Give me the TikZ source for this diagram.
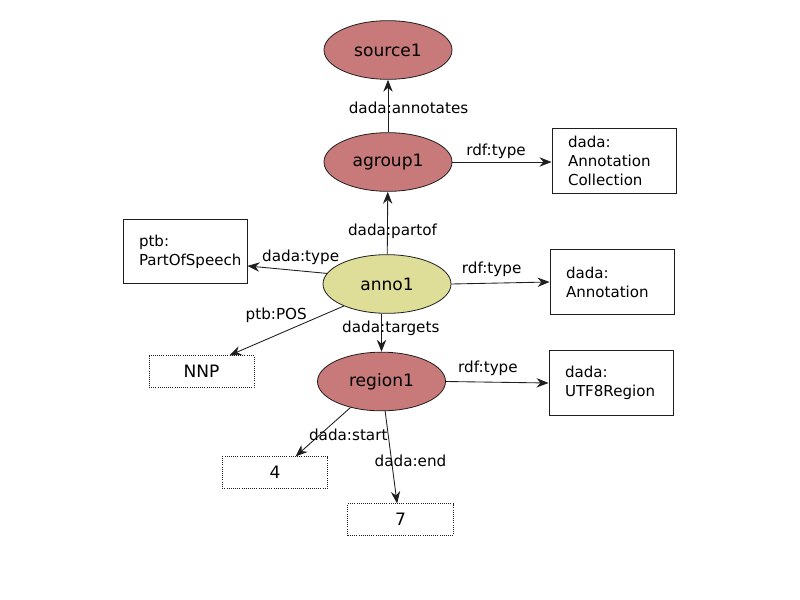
\documentclass[tikz,border=0pt]{standalone}
\usepackage{fontspec}
\setmainfont{DejaVu Sans}
\usetikzlibrary{shapes.geometric,arrows.meta}
\definecolor{redfill}{RGB}{200,121,121}
\definecolor{yelfill}{RGB}{222,222,152}
\definecolor{edgecol}{RGB}{30,30,30}
\tikzset{
  res/.style={ellipse, draw=edgecol, line width=0.6pt, fill=redfill, minimum width=96pt, minimum height=44pt, inner sep=0pt, font=\fontsize{12.8pt}{15pt}\selectfont},
  annores/.style={res, fill=yelfill},
  typebox/.style={rectangle, draw=edgecol, line width=0.7pt, minimum width=93pt, minimum height=48.5pt, inner xsep=12pt, inner ysep=0pt, text width=69pt, align=left, font=\fontsize{11.3pt}{14.4pt}\selectfont},
  litbox/.style={rectangle, draw=edgecol, densely dotted, line width=0.6pt, minimum width=79pt, minimum height=23.5pt, inner sep=0pt, font=\fontsize{12.8pt}{15pt}\selectfont},
  arc/.style={draw=edgecol, line width=0.65pt, -{Stealth[length=9pt,width=7pt]}},
  lbl/.style={font=\fontsize{11.4pt}{14pt}\selectfont, inner sep=0pt}
}
\begin{document}
\begin{tikzpicture}[x=0.75pt,y=-0.75pt]
\useasboundingbox (0,0) rectangle (800,600);
% resources
\node[res] (source1) at (388,50) {source1};
\node[res] (agroup1) at (388,162) {agroup1};
\node[annores] (anno1) at (387,284) {anno1};
\node[res] (region1) at (381.5,381.5) {region1};
% type boxes
\node[typebox] (coll) at (614,161) {dada:\\Annotation\\Collection};
\node[typebox] (annot) at (612,282) {dada:\\Annotation};
\node[typebox] (utf) at (611,383) {dada:\\UTF8Region};
\node[typebox] (pos) at (185,251.5) {ptb:\\PartOfSpeech};
% literal boxes
\node[litbox, minimum width=78.75pt] (nnp) at (201.5,371.5) {NNP};
\node[litbox] (four) at (275,472.5) {4};
\node[litbox] (seven) at (400.5,519.5) {7};
% connectors
\draw[arc] (agroup1) -- node[lbl, pos=0.46, xshift=15.4pt] {dada:annotates} (source1);
\draw[arc] (anno1) -- node[lbl, pos=0.375, xshift=3.8pt] {dada:partof} (agroup1);
\draw[arc] (agroup1.east) -- node[lbl, pos=0.44, yshift=8.3pt] {rdf:type} (coll.west |- agroup1.east);
\draw[arc] (anno1.east) -- node[lbl, pos=0.41, yshift=10.5pt] {rdf:type} (annot.west);
\draw[arc] (region1.east) -- node[lbl, pos=0.41, yshift=10.5pt] {rdf:type} (utf.west);
\draw[arc] (anno1.170) -- node[lbl, pos=0.33, yshift=10pt] {dada:type} (pos.-13);
\draw[arc] (anno1.207) -- node[lbl, pos=0.59, yshift=15pt] {ptb:POS} (nnp.30);
\draw[arc] (anno1.south -| region1.north) -- node[lbl, pos=0.39, xshift=7pt] {dada:targets} (region1.north);
\draw[arc] (region1.220) -- node[lbl, pos=0.55, xshift=21pt] {dada:start} (four.38);
\draw[arc] (region1.277) -- node[lbl, pos=0.54, xshift=14.2pt] {dada:end} (seven.102);
\end{tikzpicture}
\end{document}
